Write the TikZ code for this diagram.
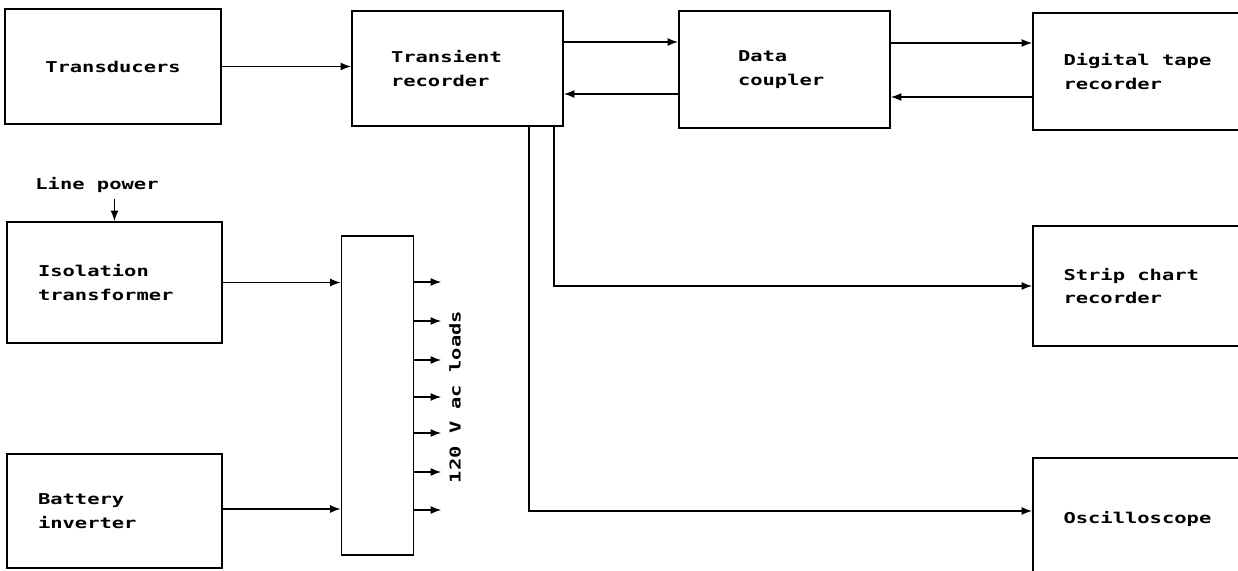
\documentclass[tikz,border=0pt]{standalone}
\usepackage{fontspec}
\newfontfamily\labelfont[FakeStretch=1.37]{DejaVu Sans Mono}
\usetikzlibrary{arrows.meta, positioning}
\tikzset{every node/.style={font=\labelfont\bfseries\fontsize{8.5}{13.6}\selectfont}}

\begin{document}
\begin{tikzpicture}[
    x=0.02cm, y=-0.02cm,
    line width=0.9pt,
    >={Latex[length=6pt, width=4.5pt]},
    blk/.style={draw, inner sep=0pt, align=flush left},
  ]
  \useasboundingbox (0,0) rectangle (1238,571);
  % top row
  \node[blk, align=center, minimum width=4.32cm, minimum height=2.30cm] (transducers) at (113,66.5) {Transducers};
  \node[blk, minimum width=4.22cm, minimum height=2.30cm, text width=2.66cm] (transient) at (457.5,68.5) {Transient\\recorder};
  \node[blk, minimum width=4.22cm, minimum height=2.34cm, text width=1.86cm] (coupler) at (784.5,69.5) {Data\\coupler};
  \node[blk, minimum width=4.24cm, minimum height=2.34cm, text width=3.02cm] (tape) at (1139,71.5) {Digital tape\\recorder};
  % right column
  \node[blk, minimum width=4.24cm, minimum height=2.40cm, text width=3.02cm] (strip) at (1139,286) {Strip chart\\recorder};
  \node[blk, minimum width=4.24cm, minimum height=2.44cm, text width=3.02cm] (scope) at (1139,519) {Oscilloscope};
  % power
  \node (linepwr) at (97,185) {Line power};
  \node[blk, minimum width=4.30cm, minimum height=2.42cm, text width=3.06cm] (isolation) at (114.5,282.5) {Isolation\\transformer};
  \node[blk, minimum width=4.30cm, minimum height=2.28cm, text width=3.06cm] (battery) at (114.5,511) {Battery\\inverter};
  \node[blk, minimum width=1.44cm, minimum height=6.38cm] (bus) at (377.5,395.5) {};
  \node[rotate=90] (loads) at (455,397) {120 V ac loads};

  \draw[->] (transducers.east) -- (transducers.east -| transient.west);
  \draw[->] ([yshift=0.53cm]transient.east) -- ([yshift=0.53cm]transient.east -| coupler.west);
  \draw[->] ([yshift=-0.49cm]coupler.west) -- ([yshift=-0.49cm]coupler.west -| transient.east);
  \draw[->] ([yshift=0.53cm]coupler.east) -- ([yshift=0.53cm]coupler.east -| tape.west);
  \draw[->] ([yshift=-0.51cm]tape.west) -- ([yshift=-0.51cm]tape.west -| coupler.east);
  \draw[->] ([xshift=1.93cm]transient.south) |- (strip.west);
  \draw[->] ([xshift=1.43cm]transient.south) |- ([yshift=0.16cm]scope.west);
  \draw[->] (isolation.north |- linepwr.south) -- (isolation.north);
  \draw[->] (isolation.east) -- (isolation.east -| bus.west);
  \draw[->] ([yshift=0.04cm]battery.east) -- ([yshift=0.04cm]battery.east -| bus.west);
  \foreach \y in {282,321,360,397,433,472,510}
    \draw[->] (bus.east |- 0,\y) -- ++(27,0);
\end{tikzpicture}
\end{document}
